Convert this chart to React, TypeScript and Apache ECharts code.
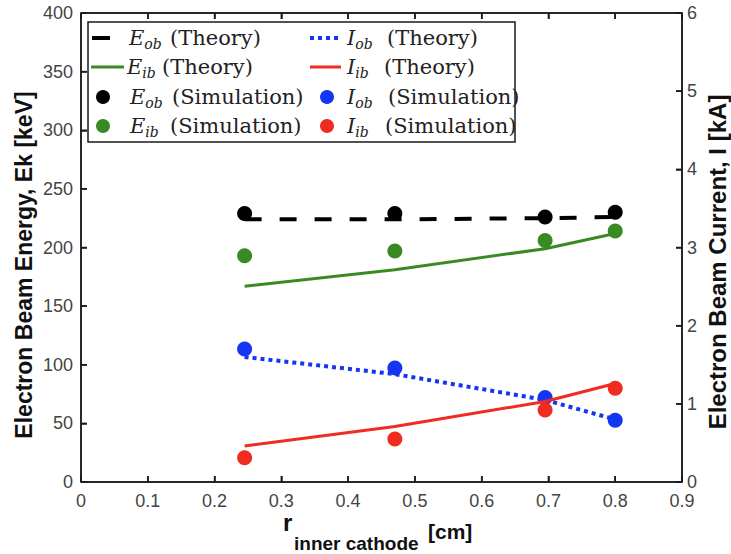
import React, { useEffect, useRef } from "react";
import * as echarts from "echarts";

const rInner = [0.245, 0.47, 0.695, 0.8];
const eobTheory = [224, 224, 225, 226];
const eibTheory = [167, 181, 199, 212];
const eobSim = [229, 229, 226, 230];
const eibSim = [193, 197, 206, 214];
const iobTheory = [1.6, 1.38, 1.05, 0.8];
const iibTheory = [0.46, 0.71, 1.03, 1.26];
const iobSim = [1.7, 1.46, 1.08, 0.79];
const iibSim = [0.31, 0.55, 0.92, 1.2];

const xTicks = [0, 0.1, 0.2, 0.3, 0.4, 0.5, 0.6, 0.7, 0.8, 0.9];
const yLeftTicks = [0, 50, 100, 150, 200, 250, 300, 350, 400];
const yRightTicks = [0, 1, 2, 3, 4, 5, 6];

const C_BLACK = "#000000";
const C_GREEN = "#3a8a24";
const C_BLUE = "#1436f2";
const C_RED = "#f02b1f";
const C_AXIS = "#1a1a1a";

const G_LEFT = 81;
const G_RIGHT = 49;
const G_TOP = 13;
const G_BOTTOM = 72;
const W = 731;
const H = 554;

const pair = (ys: number[]) => rInner.map((x, i) => [x, ys[i]]);

const SANS = "'Liberation Sans', Arial, Helvetica, sans-serif";
const SERIF = "'DejaVu Serif', 'Liberation Serif', serif";

function legendEntry(x: number, y: number, sym: string, sub: string, rest: string, restX: number) {
  return [
    {
      type: "text", x, y, z: 23,
      style: {
        text: `{m|${sym}}{s|${sub}}`,
        align: "left", verticalAlign: "middle",
        rich: {
          m: { font: `italic 21px ${SERIF}`, fill: "#222", lineHeight: 26 },
          s: { font: `italic 14px ${SERIF}`, fill: "#222", lineHeight: 14, verticalAlign: "bottom" },
        },
      },
    },
    { type: "text", x: restX, y, z: 23, style: { text: rest, font: `21px ${SERIF}`, fill: "#222", align: "left", verticalAlign: "middle" } },
  ];
}

const mkLine = () => ({ show: true, onZero: false, lineStyle: { color: C_AXIS, width: 1.5 } });
const mkTick = () => ({ show: true, inside: true, length: 6, lineStyle: { color: C_AXIS, width: 1.5 } });
const mkLabel = (margin: number) => ({ show: true, color: "#444", fontSize: 18, fontFamily: SANS, margin });

export default function App() {
  const ref = useRef<HTMLDivElement>(null);
  useEffect(() => {
    if (!ref.current) return;
    const chart = echarts.init(ref.current, null, { renderer: "svg" });

    const L = G_LEFT, R = W - G_RIGHT, T = G_TOP, B = H - G_BOTTOM;
    const xMin = xTicks[0], xMax = xTicks[xTicks.length - 1];
    const yLMax = yLeftTicks[yLeftTicks.length - 1];
    const yRMax = yRightTicks[yRightTicks.length - 1];
    const fx = (v: number) => L + ((v - xMin) / (xMax - xMin)) * (R - L);
    const fyL = (v: number) => B - (v / yLMax) * (B - T);
    const fyR = (v: number) => B - (v / yRMax) * (B - T);
    const st = { stroke: C_AXIS, lineWidth: 1.5 };
    const tl = 6;
    const frame: any[] = [
      { type: "line", z: 20, shape: { x1: L, y1: T, x2: R, y2: T }, style: st },
      { type: "line", z: 20, shape: { x1: L, y1: B, x2: R, y2: B }, style: st },
      { type: "line", z: 20, shape: { x1: L, y1: T, x2: L, y2: B }, style: st },
      { type: "line", z: 20, shape: { x1: R, y1: T, x2: R, y2: B }, style: st },
    ];
    xTicks.forEach((t) => {
      frame.push({ type: "line", z: 20, shape: { x1: fx(t), y1: B, x2: fx(t), y2: B - tl }, style: st });
      frame.push({ type: "line", z: 20, shape: { x1: fx(t), y1: T, x2: fx(t), y2: T + tl }, style: st });
    });
    yLeftTicks.forEach((t) => frame.push({ type: "line", z: 20, shape: { x1: L, y1: fyL(t), x2: L + tl, y2: fyL(t) }, style: st }));
    yRightTicks.forEach((t) => frame.push({ type: "line", z: 20, shape: { x1: R, y1: fyR(t), x2: R - tl, y2: fyR(t) }, style: st }));

    const rows = [38, 67, 97, 126];
    const graphic: any[] = [
      ...frame,
      { type: "rect", shape: { x: 88, y: 22, width: 427, height: 120 }, style: { fill: "#fff", stroke: C_AXIS, lineWidth: 1.5 }, z: 21 },
      { type: "line", shape: { x1: 92, y1: rows[0], x2: 110, y2: rows[0] }, style: { stroke: C_BLACK, lineWidth: 4 }, z: 22 },
      { type: "line", shape: { x1: 91, y1: rows[1], x2: 124, y2: rows[1] }, style: { stroke: C_GREEN, lineWidth: 3 }, z: 22 },
      { type: "circle", shape: { cx: 103, cy: rows[2], r: 7 }, style: { fill: C_BLACK }, z: 22 },
      { type: "circle", shape: { cx: 103, cy: rows[3], r: 7 }, style: { fill: C_GREEN }, z: 22 },
      { type: "line", shape: { x1: 310, y1: rows[0], x2: 341, y2: rows[0] }, style: { stroke: C_BLUE, lineWidth: 4, lineDash: [4, 4] }, z: 22 },
      { type: "line", shape: { x1: 310, y1: rows[1], x2: 341, y2: rows[1] }, style: { stroke: C_RED, lineWidth: 3 }, z: 22 },
      { type: "circle", shape: { cx: 327, cy: rows[2], r: 7 }, style: { fill: C_BLUE }, z: 22 },
      { type: "circle", shape: { cx: 327, cy: rows[3], r: 7 }, style: { fill: C_RED }, z: 22 },
      ...legendEntry(129, rows[0], "E", "ob", "(Theory)", 170),
      ...legendEntry(127, rows[1], "E", "ib", "(Theory)", 162),
      ...legendEntry(130, rows[2], "E", "ob", "(Simulation)", 172),
      ...legendEntry(130, rows[3], "E", "ib", "(Simulation)", 170),
      ...legendEntry(347, rows[0], "I", "ob", "(Theory)", 387),
      ...legendEntry(347, rows[1], "I", "ib", "(Theory)", 384),
      ...legendEntry(347, rows[2], "I", "ob", "(Simulation)", 388),
      ...legendEntry(347, rows[3], "I", "ib", "(Simulation)", 385),
      { type: "text", x: 24, y: 265, rotation: Math.PI / 2, style: { text: "Electron Beam Energy, Ek [keV]", font: `bold 23px ${SANS}`, fill: "#111", align: "center", verticalAlign: "middle" } },
      { type: "text", x: 717, y: 262, rotation: Math.PI / 2, style: { text: "Electron Beam Current, I [kA]", font: `bold 24px ${SANS}`, fill: "#111", align: "center", verticalAlign: "middle" } },
      { type: "text", x: 283, y: 522, style: { text: "r", font: `bold 24px ${SANS}`, fill: "#111", align: "left", verticalAlign: "middle" } },
      { type: "text", x: 294, y: 543, style: { text: "inner cathode", font: `bold 19px ${SANS}`, fill: "#111", align: "left", verticalAlign: "middle" } },
      { type: "text", x: 428, y: 531, style: { text: "[cm]", font: `bold 21px ${SANS}`, fill: "#111", align: "left", verticalAlign: "middle" } },
    ];
    graphic.forEach((g) => { if (g.z === undefined) g.z = 23; });

    chart.setOption({
      animation: false,
      backgroundColor: "#fff",
      grid: { left: G_LEFT, right: G_RIGHT, top: G_TOP, bottom: G_BOTTOM },
      xAxis: [
        {
          type: "value", min: xMin, max: xMax, interval: 0.1, position: "bottom",
          axisLine: mkLine(), axisTick: mkTick(), splitLine: { show: false },
          axisLabel: { ...mkLabel(10), formatter: (v: number) => (v === 0 ? "0" : v.toFixed(1)) },
        },
        {
          type: "value", min: xMin, max: xMax, interval: 0.1, position: "top",
          axisLine: mkLine(), axisTick: mkTick(), splitLine: { show: false }, axisLabel: { show: false },
        },
      ],
      yAxis: [
        {
          type: "value", min: yLeftTicks[0], max: yLMax, interval: 50, position: "left",
          axisLine: mkLine(), axisTick: mkTick(), splitLine: { show: false }, axisLabel: mkLabel(8),
        },
        {
          type: "value", min: yRightTicks[0], max: yRMax, interval: 1, position: "right",
          axisLine: mkLine(), axisTick: mkTick(), splitLine: { show: false }, axisLabel: mkLabel(5),
        },
      ],
      series: [
        { name: "Eob (Theory)", type: "line", yAxisIndex: 0, data: pair(eobTheory), showSymbol: false, lineStyle: { color: C_BLACK, width: 4, type: [17, 18] }, z: 3 },
        { name: "Eib (Theory)", type: "line", yAxisIndex: 0, data: pair(eibTheory), showSymbol: false, lineStyle: { color: C_GREEN, width: 3 }, z: 3 },
        { name: "Iob (Theory)", type: "line", yAxisIndex: 1, data: pair(iobTheory), showSymbol: false, lineStyle: { color: C_BLUE, width: 4, type: [4, 4] }, z: 3 },
        { name: "Iib (Theory)", type: "line", yAxisIndex: 1, data: pair(iibTheory), showSymbol: false, lineStyle: { color: C_RED, width: 3 }, z: 3 },
        { name: "Eob (Simulation)", type: "scatter", yAxisIndex: 0, data: pair(eobSim), symbolSize: 15, itemStyle: { color: C_BLACK, opacity: 1 }, z: 2 },
        { name: "Eib (Simulation)", type: "scatter", yAxisIndex: 0, data: pair(eibSim), symbolSize: 15, itemStyle: { color: C_GREEN, opacity: 1 }, z: 2 },
        { name: "Iob (Simulation)", type: "scatter", yAxisIndex: 1, data: pair(iobSim), symbolSize: 15, itemStyle: { color: C_BLUE, opacity: 1 }, z: 2 },
        { name: "Iib (Simulation)", type: "scatter", yAxisIndex: 1, data: pair(iibSim), symbolSize: 15, itemStyle: { color: C_RED, opacity: 1 }, z: 2 },
      ],
      graphic,
    });
    return () => chart.dispose();
  }, []);
  return <div ref={ref} style={{ position: "absolute", left: 0, top: 0, width: W, height: H }} />;
}
